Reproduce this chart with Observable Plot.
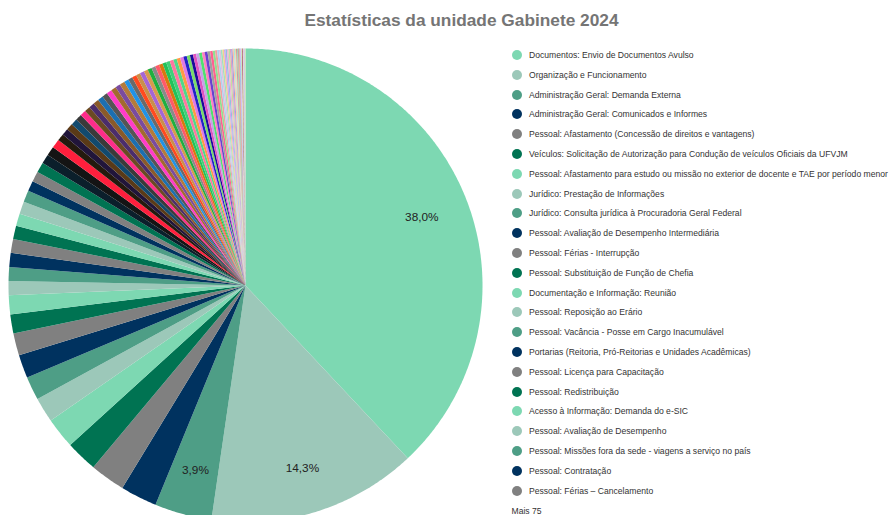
<!DOCTYPE html>
<html>
<head>
<meta charset="utf-8">
<script src="https://cdn.jsdelivr.net/npm/d3@7"></script>
<script src="https://cdn.jsdelivr.net/npm/@observablehq/plot@0.6"></script>
<style>
html, body { margin: 0; padding: 0; background: #fff; }
#wrap { position: relative; width: 890px; height: 515px; overflow: hidden; font-family: "Liberation Sans", Arial, sans-serif; }
#title { position: absolute; top: 12px; left: 461.5px; transform: translateX(-50%); white-space: nowrap; font-size: 17.3px; font-weight: bold; color: #757575; line-height: 1; }
#chart { position: absolute; left: 0; top: 0; }
.item { position: absolute; left: 511.5px; height: 14px; display: flex; align-items: center; font-size: 8.6px; color: #333; white-space: nowrap; }
.sw { width: 10px; height: 10px; border-radius: 50%; margin-right: 7.5px; flex: none; }
.more { position: absolute; left: 511.5px; font-size: 8.6px; color: #333; white-space: nowrap; height: 14px; line-height: 14px; }
</style>
</head>
<body>
<div id="wrap">
  <div id="chart"></div>
  <div id="title"></div>
  <div id="legend"></div>
</div>
<script>
const titleText = "Estatísticas da unidade Gabinete 2024";
const moreText = "Mais 75";

const legendLabels = [
  "Documentos: Envio de Documentos Avulso",
  "Organização e Funcionamento",
  "Administração Geral: Demanda Externa",
  "Administração Geral: Comunicados e Informes",
  "Pessoal: Afastamento (Concessão de direitos e vantagens)",
  "Veículos: Solicitação de Autorização para Condução de veículos Oficiais da UFVJM",
  "Pessoal: Afastamento para estudo ou missão no exterior de docente e TAE por período menor",
  "Jurídico: Prestação de Informações",
  "Jurídico: Consulta jurídica à Procuradoria Geral Federal",
  "Pessoal: Avaliação de Desempenho Intermediária",
  "Pessoal: Férias - Interrupção",
  "Pessoal: Substituição de Função de Chefia",
  "Documentação e Informação: Reunião",
  "Pessoal: Reposição ao Erário",
  "Pessoal: Vacância - Posse em Cargo Inacumulável",
  "Portarias (Reitoria, Pró-Reitorias e Unidades Acadêmicas)",
  "Pessoal: Licença para Capacitação",
  "Pessoal: Redistribuição",
  "Acesso à Informação: Demanda do e-SIC",
  "Pessoal: Avaliação de Desempenho",
  "Pessoal: Missões fora da sede - viagens a serviço no país",
  "Pessoal: Contratação",
  "Pessoal: Férias – Cancelamento"
];

// share of each subject, in percent (98 subjects, largest first)
const values = [
  38.0, 14.3, 3.9, 2.5, 2.4, 2.15, 2.1, 1.7, 1.6, 1.6, 1.5, 1.3, 1.3, 0.95, 0.95, 0.95, 0.95, 0.9, 0.85, 0.85, 0.8, 0.7, 0.7, 0.7,
  0.64, 0.62, 0.60,
  0.48, 0.46, 0.45, 0.44, 0.43,
  0.40, 0.39, 0.38, 0.38, 0.37, 0.37, 0.36, 0.35, 0.35, 0.34,
  0.31, 0.30, 0.30, 0.29, 0.29, 0.28, 0.28, 0.27, 0.27, 0.26, 0.26, 0.25, 0.25, 0.24, 0.24, 0.23, 0.23,
  0.22, 0.21, 0.21, 0.20, 0.20, 0.19, 0.19, 0.18, 0.17, 0.16,
  0.14, 0.13, 0.12, 0.11, 0.11, 0.10, 0.10, 0.10, 0.10, 0.09, 0.09, 0.08, 0.08, 0.07, 0.07, 0.06, 0.06, 0.05, 0.05, 0.05, 0.04, 0.04, 0.04, 0.03, 0.03, 0.03, 0.03, 0.03, 0.03
];

const basePalette = ["#7DD8B2", "#9CC8B9", "#4E9E86", "#00325F", "#808080", "#007352"];
const baseCount = 24;
const extraColors = [
  "#0B1F2B", "#141414", "#FF1F3D", "#241A0E", "#21153A", "#5A3A17", "#124A6E", "#3A3A3A",
  "#FF2D8A", "#6B4A22", "#4B2D6B", "#8A5A2A", "#1C6FB0", "#555555", "#FF3CC8", "#A36A2E",
  "#7A4B9F", "#B47B3B", "#2193E6", "#6A6A6A", "#FF4A1F", "#C9904A", "#A566D6", "#D89A4E",
  "#1FAF3F", "#8A8A8A", "#FF5A6A", "#D9780F", "#22C25A", "#3FD07A", "#FF76A0", "#4FD88A",
  "#FF9A45", "#E07BE0", "#2222C8", "#7ADB6A", "#1A0A9A", "#E055C0", "#C8A0E8", "#50E070",
  "#FF80C0", "#6A40D0", "#A0A0A0", "#FF6090", "#90E090",
  "#F0A0A0", "#B0D0F0", "#E0C0E0", "#A0E0C0", "#F0D090", "#D0A0F0", "#90C0E0", "#F0B0D0",
  "#C0E0A0", "#E0A0C0", "#A0A0E0", "#FFC0A0", "#B0E0E0", "#E0E0A0", "#D090A0", "#90D0B0",
  "#C0A080", "#F09090", "#80B0F0", "#E0B0F0", "#A0F0A0", "#F0C0C0", "#8B1A3A", "#F0E0B0",
  "#B0F0D0", "#E090D0", "#90E0E0", "#F0A0E0", "#D0F0A0"
];

const colors = values.map((v, i) => i < baseCount ? basePalette[i % basePalette.length] : extraColors[i - baseCount]);
const total = d3.sum(values);

// pie layout (starting at 12 o'clock, clockwise)
const arcs = d3.pie().sort(null).value(d => d)(values);
const pt = (a, r) => [r * Math.sin(a), -r * Math.cos(a)];
const features = arcs.map((a, i) => {
  const n = Math.max(2, Math.ceil((a.endAngle - a.startAngle) / (Math.PI / 360)));
  const ring = [[0, 0]];
  for (let k = 0; k <= n; k++) ring.push(pt(a.startAngle + (a.endAngle - a.startAngle) * k / n, 1));
  ring.push([0, 0]);
  return {type: "Feature", properties: {color: colors[i]}, geometry: {type: "Polygon", coordinates: [ring]}};
});
const collection = {type: "FeatureCollection", features};

const fmt = v => d3.format(".1f")(v).replace(".", ",") + "%";
const labels = arcs
  .filter(a => a.data / total * 100 >= 3)
  .map(a => {
    const [x, y] = pt((a.startAngle + a.endAngle) / 2, 0.8);
    return {x, y, text: fmt(a.data / total * 100)};
  });

const chart = Plot.plot({
  width: 890,
  height: 530,
  marginLeft: 8,
  marginRight: 408,
  marginTop: 48,
  marginBottom: 8,
  projection: {type: "identity", domain: collection},
  style: {background: "#fff", fontFamily: "'Liberation Sans', Arial, sans-serif"},
  marks: [
    Plot.geo(features, {fill: d => d.properties.color, stroke: "none"}),
    Plot.text(labels, {x: "x", y: "y", text: "text", fontSize: 11.8, fill: "#222", dy: 1.5})
  ],
  color: {type: "identity"}
});
document.getElementById("chart").appendChild(chart);
document.getElementById("title").textContent = titleText;

const legend = document.getElementById("legend");
legendLabels.forEach((name, i) => {
  const item = document.createElement("div");
  item.className = "item";
  item.style.top = (55 + i * 19.8 - 7) + "px";
  const sw = document.createElement("span");
  sw.className = "sw";
  sw.style.background = colors[i];
  const t = document.createElement("span");
  t.textContent = name;
  item.appendChild(sw);
  item.appendChild(t);
  legend.appendChild(item);
});
const more = document.createElement("div");
more.className = "more";
more.style.top = (511 - 7) + "px";
more.textContent = moreText;
legend.appendChild(more);
</script>
</body>
</html>
